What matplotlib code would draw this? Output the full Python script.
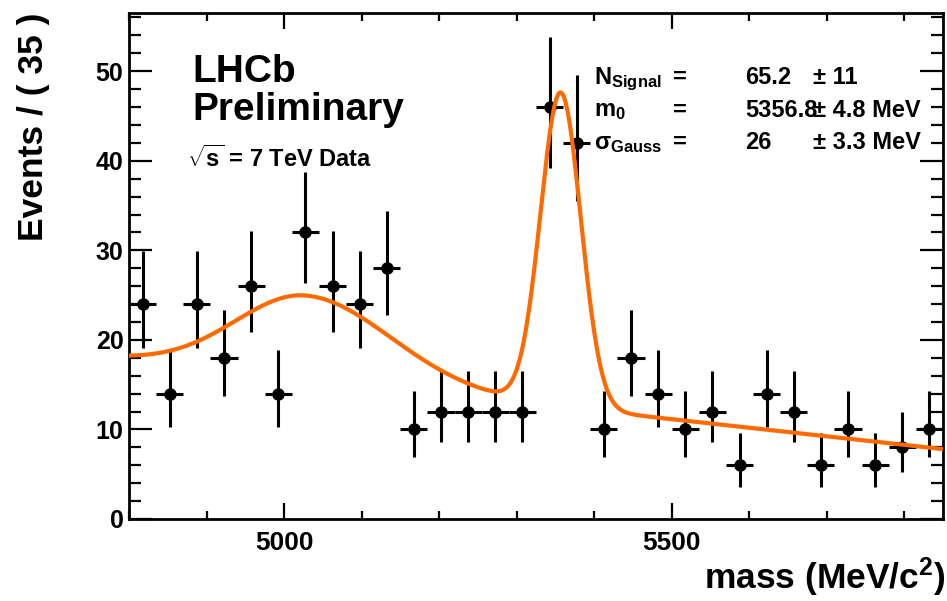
import numpy as np
import matplotlib.pyplot as plt
from matplotlib.ticker import MultipleLocator

plt.rcParams['font.family'] = ['Liberation Sans', 'DejaVu Sans']
plt.rcParams['font.weight'] = 'bold'
plt.rcParams['mathtext.fontset'] = 'custom'
plt.rcParams['mathtext.rm'] = 'Liberation Sans:bold'
plt.rcParams['mathtext.it'] = 'Liberation Sans:bold'
plt.rcParams['mathtext.bf'] = 'Liberation Sans:bold'

# binned mass spectrum, 35 MeV bins
mass_lo, mass_hi = 4800, 5850
bin_width = 35
counts = [24, 14, 24, 18, 26, 14, 32, 26, 24, 28,
          10, 12, 12, 12, 12, 46, 42, 10, 18, 14,
          10, 12, 6, 14, 12, 6, 10, 6, 8, 10]

# fit result: gaussian signal
n_signal = 65.2
m0 = 5356.8
sigma_gauss = 26.0
# background: linear combinatorial + asymmetric bump
bkg_at_hi = 7.8
bkg_slope = -0.00956
bump_amp = 9.3
bump_mean = 5030
bump_sig_lo = 92
bump_sig_hi = 108

W, H = 947, 601
fig = plt.figure(figsize=(W / 100, H / 100), dpi=100)
ax = fig.add_axes([129 / W, (H - 519) / H, (943 - 129) / W, (519 - 13) / H])

counts = np.array(counts, dtype=float)
centers = np.arange(mass_lo + bin_width / 2, mass_hi, bin_width)
# Poisson (Gehrels) approximations for the asymmetric errors
err_hi = np.sqrt(counts + 0.75) + 1
err_lo = np.sqrt(counts - 0.25)

ax.errorbar(centers, counts, yerr=[err_lo, err_hi], xerr=bin_width / 2,
            fmt='o', color='black', ms=8, elinewidth=2.2, capsize=0, zorder=2)


def fit_model(m):
    sig = n_signal * bin_width / (np.sqrt(2 * np.pi) * sigma_gauss) * \
        np.exp(-0.5 * ((m - m0) / sigma_gauss) ** 2)
    s = np.where(m < bump_mean, bump_sig_lo, bump_sig_hi)
    bump = bump_amp * np.exp(-0.5 * ((m - bump_mean) / s) ** 2)
    lin = bkg_at_hi + bkg_slope * (m - mass_hi)
    return sig + bump + lin


mm = np.linspace(mass_lo, mass_hi, 1000)
ax.plot(mm, fit_model(mm), color='#ff6a00', lw=3, zorder=3)

ax.set_xlim(mass_lo, mass_hi)
ax.set_ylim(0, 56.5)
ax.xaxis.set_major_locator(MultipleLocator(500))
ax.xaxis.set_minor_locator(MultipleLocator(100))
ax.yaxis.set_major_locator(MultipleLocator(10))
ax.yaxis.set_minor_locator(MultipleLocator(2))
ax.tick_params(which='both', direction='in', top=True, right=True, width=1.6)
ax.tick_params(axis='x', which='major', length=11.5, labelsize=19, pad=9)
ax.tick_params(axis='x', which='minor', length=5.8)
ax.tick_params(axis='y', which='major', length=16.5, labelsize=18, pad=4)
ax.tick_params(axis='y', which='minor', length=8.6)
for sp in ax.spines.values():
    sp.set_linewidth(2)

fig.text(17 / W, 1 - 13 / H, 'Events / ( 35 )', rotation=90, ha='left', va='top',
         fontsize=25.5, fontweight='bold')
fig.text(945 / W, 2 / H, r'mass (MeV/c$^{2}$)', ha='right', va='bottom',
         fontsize=25.5, fontweight='bold')

# experiment label
fig.text(192 / W, 1 - 82 / H, 'LHCb', fontsize=28, fontweight='bold')
fig.text(192 / W, 1 - 120 / H, 'Preliminary', fontsize=28, fontweight='bold')
fig.text(187 / W, 1 - 167 / H, r'$\sqrt{s}$ = 7 TeV Data', fontsize=17, fontweight='bold')

# fit parameters box
rows = [(r'N$_{\mathrm{Signal}}$', '65.2', '± 11'),
        (r'm$_{\mathrm{0}}$', '5356.8', '± 4.8 MeV'),
        (r'σ$_{\mathrm{Gauss}}$', '26', '± 3.3 MeV')]
for i, (name, val, err) in enumerate(rows):
    y = 1 - (84 + 32.5 * i) / H
    fig.text(594 / W, y, name, fontsize=17, fontweight='bold')
    fig.text(680 / W, y, '=', fontsize=17, fontweight='bold', ha='center')
    fig.text(745 / W, y, val, fontsize=17, fontweight='bold')
    fig.text(813 / W, y, err, fontsize=17, fontweight='bold')

fig.savefig('out.png', dpi=100)
